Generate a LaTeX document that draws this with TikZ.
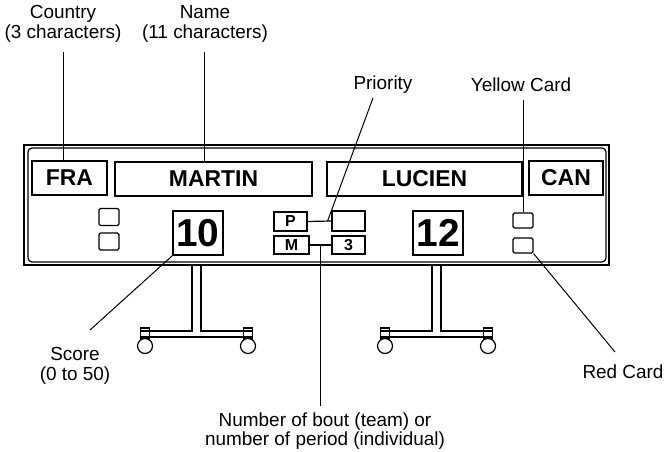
\documentclass[tikz,border=0pt]{standalone}
\usepackage{fontspec}
\setmainfont{Liberation Sans}
\usetikzlibrary{calc}
\tikzstyle{namebox} = [rectangle, 
draw=black, 
line width=1.3bp, 
inner sep=0pt, 
minimum height=34bp, 
font=\fontsize{23}{23}\selectfont\bfseries]
\tikzstyle{scorebox} = [rectangle, draw=black, line width=1.3bp, inner sep=0pt, minimum width=50bp, minimum height=44bp, font=\fontsize{39}{39}\selectfont\bfseries]
\tikzstyle{smallbox} = [rectangle, draw=black, line width=1.3bp, inner sep=0pt, minimum width=33bp, font=\fontsize{16}{16}\selectfont\bfseries]
\tikzstyle{cardbox} = [rectangle, draw=black, line width=1.1bp, inner sep=0pt, rounded corners=1.5bp, minimum width=20bp, minimum height=17bp]
\tikzstyle{lbltext} = [align=center, inner sep=0pt, font=\fontsize{19}{19.5}\selectfont]
\tikzstyle{leader} = [line width=1bp]

\begin{document}
\begin{tikzpicture}[x=1bp, y=-1bp, line width=1.2bp]
    \useasboundingbox (0,0) rectangle (665,452);

    % Board
    \draw [line width=1.6bp] (24,145) rectangle (609,265);
    \draw [rounded corners=4bp] (28,148) rectangle (606,262);

    \node (fra) [namebox, minimum width=75bp] at (69.5,178) {FRA};
    \node (martin) [namebox, minimum width=197bp] at (213.5,179) {MARTIN};
    \node (lucien) [namebox, minimum width=195bp] at (424.5,179) {LUCIEN};
    \node (can) [namebox, minimum width=74bp] at (566,178) {CAN};

    \node (lcarda) [cardbox] at (109,217) {};
    \node (lcardb) [cardbox] at (109,241.5) {};
    \node (scorea) [scorebox] at (198,233) {10};

    \node (p) [smallbox, minimum height=19bp] at (290.5,221.5) {P};
    \node (m) [smallbox, minimum width=35bp, minimum height=18bp] at (291.5,245) {M};
    \node (prio) [smallbox, minimum height=20bp] at (348.5,221) {};
    \node (bout) [smallbox, minimum height=18bp] at (348.5,245) {3};

    \node (scoreb) [scorebox] at (438,233) {12};
    \node (rcarda) [cardbox, minimum height=15bp] at (523,220.5) {};
    \node (rcardb) [cardbox, minimum height=15bp] at (523,245.5) {};

    \draw (p.east) -- (prio.west);
    \draw (m.east) -- (bout.west);

    % Stands
    \foreach \cx in {196.5, 436.5} {
        \draw ({\cx-56},331) -- ({\cx-4.5},331) -- ({\cx-4.5},265);
        \draw ({\cx+4.5},265) -- ({\cx+4.5},331) -- ({\cx+56},331);
        \draw ({\cx-56},337) -- ({\cx+56},337);
        \draw ({\cx-56},328) rectangle ({\cx-47},339);
        \draw ({\cx+47},328) rectangle ({\cx+56},339);
        \draw [fill=white] ({\cx-51.5},346) circle [radius=7.5bp];
        \draw [fill=white] ({\cx+51.5},346) circle [radius=7.5bp];
    }

    % Labels
    \node (country) [lbltext] at (63,24) {Country\\(3 characters)};
    \node (name) [lbltext] at (205,24) {Name\\(11 characters)};
    \node (priority) [lbltext] at (383,85) {Priority};
    \node (yellow) [lbltext] at (521,85) {Yellow Card};
    \node (red) [lbltext] at (623,372) {Red Card};
    \node (score) [lbltext] at (75,366) {Score\\(0 to 50)};
    \node (boutlabel) [lbltext] at (325,431) {Number of bout (team) or\\number of period (individual)};

    % Leader lines
    \coordinate (countrytip) at (63,52);
    \coordinate (nametip) at (204,52);
    \coordinate (priotip) at (373,98);
    \coordinate (priojoin) at ($(p.east)!0.84!(prio.west)$);
    \coordinate (boutjoin) at ($(m.east)!0.48!(bout.west)$);
    \coordinate (bouttip) at (320,406);
    \coordinate (yellowtip) at (523,100);
    \coordinate (redtip) at (615,352);
    \coordinate (scoretip) at (90,330);

    \draw [leader] (countrytip) -- (countrytip |- fra.north);
    \draw [leader] (nametip) -- (nametip |- martin.north);
    \draw [leader] (priotip) -- (priojoin);
    \draw [leader] (boutjoin) -- (boutjoin |- bouttip);
    \draw [leader] (yellowtip) -- (rcarda.north);
    \draw [leader] (rcardb.south east) -- (redtip);
    \draw [leader] (scoretip) -- (scorea.south west);
\end{tikzpicture}
\end{document}
